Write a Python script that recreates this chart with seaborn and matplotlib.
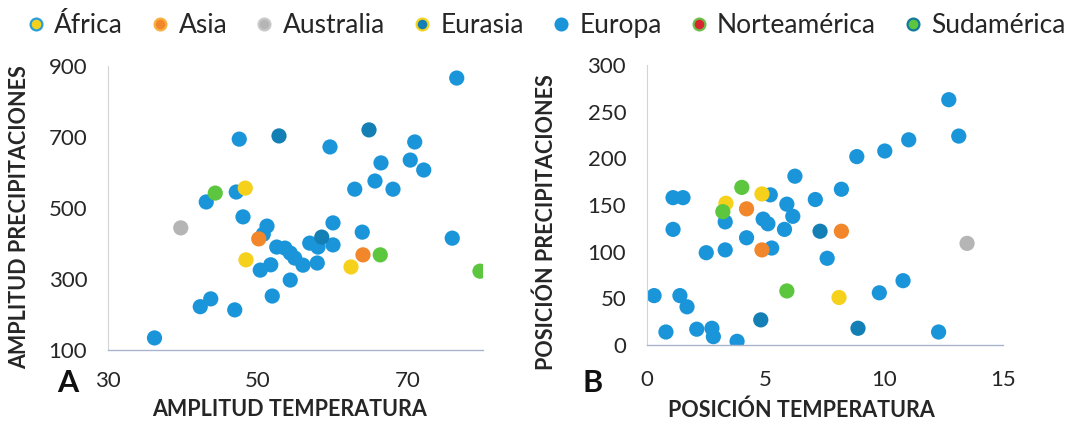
import pandas as pd
import seaborn as sns
import matplotlib.pyplot as plt
from matplotlib.lines import Line2D

# Panel A: amplitud temperatura vs amplitud precipitaciones
amp_temp = [47.1, 48.0, 51.2, 50.7, 52.5, 53.6, 54.3, 54.9, 56.0, 57.9,
            56.9, 58.0, 60.0, 60.0, 50.3, 51.7, 54.3, 51.9, 43.7, 42.3,
            76.5, 59.6, 70.9, 66.4, 70.3, 72.1, 65.6, 62.9, 68.0, 75.9,
            47.5, 43.1, 36.2, 46.9, 63.9,
            52.8, 64.8, 58.5,
            48.3, 48.4, 62.4,
            44.3, 66.3, 79.6,
            50.1, 64.0,
            39.7]
amp_prec = [545, 475, 449, 426, 390, 387, 373, 359, 339, 345,
            401, 390, 396, 458, 325, 340, 297, 252, 244, 222,
            866, 672, 686, 627, 635, 607, 576, 553, 553, 415,
            694, 517, 134, 213, 432,
            703, 720, 418,
            556, 354, 334,
            542, 368, 322,
            413, 368,
            444]
amp_cont = (["Europa"] * 35 + ["Eurasia"] * 3 + ["África"] * 3
            + ["Sudamérica"] * 3 + ["Asia"] * 2 + ["Australia"])

# Panel B: posicion temperatura vs posicion precipitaciones
pos_temp = [1.1, 1.52, 1.1, 3.3, 5.2, 6.24, 4.9, 5.1, 5.9, 6.15,
            5.8, 5.26, 2.5, 3.3, 7.1, 8.2, 8.85, 7.6, 11.04, 10.03,
            9.8, 0.3, 1.39, 1.69, 0.8, 2.1, 2.74, 2.8, 3.8,
            4.2, 12.73, 13.15, 10.8, 12.3,
            7.3, 8.9, 4.8,
            3.33, 4.85, 8.1,
            3.2, 4.0, 5.9,
            4.2, 4.85, 8.2,
            13.5]
pos_prec = [158, 158, 124, 132, 161, 181, 135, 130, 151, 138,
            124, 104, 99, 102, 156, 167, 202, 93, 220, 208,
            56, 53, 53, 41, 14, 17, 18, 9, 4,
            115, 263, 224, 69, 14,
            122, 18, 27,
            152, 162, 51,
            143, 169, 58,
            146, 102, 122,
            109]
pos_cont = (["Europa"] * 34 + ["Eurasia"] * 3 + ["África"] * 3
            + ["Sudamérica"] * 3 + ["Asia"] * 3 + ["Australia"])

continentes = ["África", "Asia", "Australia", "Eurasia", "Europa",
               "Norteamérica", "Sudamérica"]
colores = {"África": "#f5d11c", "Asia": "#f2862a", "Australia": "#b5b5b5",
           "Eurasia": "#137fb4", "Europa": "#1b95d9",
           "Norteamérica": "#d8262e", "Sudamérica": "#5cc73e"}
bordes = {"África": "#2a9fd6", "Asia": "#f8b040", "Australia": "#c8c8c8",
          "Eurasia": "#f2d41e", "Europa": "#1b95d9",
          "Norteamérica": "#6cc04a", "Sudamérica": "#14799e"}

df_a = pd.DataFrame({"x": amp_temp, "y": amp_prec, "cont": amp_cont})
df_b = pd.DataFrame({"x": pos_temp, "y": pos_prec, "cont": pos_cont})

sns.set_theme(style="white")
plt.rcParams["font.family"] = ["Lato", "DejaVu Sans"]

fig = plt.figure(figsize=(10.91, 4.26), dpi=100)
ax1 = fig.add_axes([0.099, 0.1784, 0.3437, 0.6667])
ax2 = fig.add_axes([0.593, 0.190, 0.326, 0.657])

for ax, df in [(ax1, df_a), (ax2, df_b)]:
    sns.scatterplot(data=df, x="x", y="y", hue="cont", palette=colores,
                    s=120, linewidth=0, alpha=1, legend=False, ax=ax)
    for side in ["top", "right"]:
        ax.spines[side].set_visible(False)
    ax.spines["left"].set_color("#d4d4d4")
    ax.spines["left"].set_linewidth(0.8)
    ax.spines["bottom"].set_color("#a9b5cc")
    ax.spines["bottom"].set_linewidth(1.0)
    ax.tick_params(length=0, labelsize=16, colors="#262626")

ax1.set_xlim(30, 80)
ax1.set_ylim(100, 900)
ax1.set_xticks([30, 50, 70])
ax1.set_yticks([100, 300, 500, 700, 900])
ax1.tick_params(axis="y", pad=15)
ax1.tick_params(axis="x", pad=15)

ax2.set_xlim(0, 15)
ax2.set_ylim(0, 300)
ax2.set_xticks([0, 5, 10, 15])
ax2.set_yticks([0, 50, 100, 150, 200, 250, 300])
ax2.tick_params(axis="y", pad=15)
ax2.tick_params(axis="x", pad=18)

lab = dict(fontsize=15.5, fontweight="bold", color="#262626")
ax1.set_xlabel("AMPLITUD TEMPERATURA", **lab)
ax1.set_ylabel("AMPLITUD PRECIPITACIONES", **lab)
ax2.set_xlabel("POSICIÓN TEMPERATURA", **lab)
ax2.set_ylabel("POSICIÓN PRECIPITACIONES", **lab)
for ax in [ax1, ax2]:
    ax.xaxis.label.set_va("center")
    ax.yaxis.label.set_va("center")
ax1.xaxis.set_label_coords(0.485, -0.211)
ax1.yaxis.set_label_coords(-0.235, 0.468)
ax2.xaxis.set_label_coords(0.433, -0.232)
ax2.yaxis.set_label_coords(-0.284, 0.44)

fig.text(68 / 1091, 1 - 383 / 426, "A", fontsize=22, fontweight="bold",
         ha="center", va="center", color="#111111")
fig.text(593 / 1091, 1 - 383 / 426, "B", fontsize=22, fontweight="bold",
         ha="center", va="center", color="#111111")

handles = [Line2D([], [], marker="o", linestyle="", markersize=8.5,
                  markerfacecolor=colores[c], markeredgecolor=bordes[c],
                  markeredgewidth=1.6, label=c) for c in continentes]
fig.legend(handles=handles, loc="upper center", bbox_to_anchor=(0.5, 1.0),
           ncol=7, frameon=False, fontsize=19, handletextpad=0.3,
           columnspacing=1.0, handlelength=0.8, borderaxespad=0.1,
           labelcolor="#262626")

fig.savefig("out.png", dpi=100)
